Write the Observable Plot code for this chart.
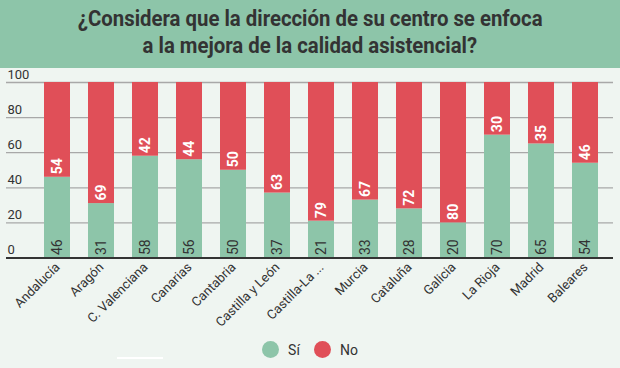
<!DOCTYPE html>
<html>
<head>
<meta charset="utf-8">
<script src="https://cdn.jsdelivr.net/npm/d3@7"></script>
<script src="https://cdn.jsdelivr.net/npm/@observablehq/plot@0.6"></script>
<style>
  html, body { margin: 0; padding: 0; }
  body { width: 620px; height: 368px; background: #eff5f1; font-family: Roboto, sans-serif; overflow: hidden; position: relative; }
  #header { height: 68px; background: #8dc5a9; text-align: center; color: #333; font-weight: 700; font-size: 22px; }
  #header div { line-height: 27px; }
  #header span { display: inline-block; transform: scaleX(0.925); white-space: nowrap; }
  #header .l1 { padding-top: 5px; }
  #chart { position: absolute; top: 68px; left: 0; }
  #legend { position: absolute; top: 341px; left: 0; width: 620px; display: flex; justify-content: center; align-items: center; font-size: 14px; color: #333; }
  .sw { width: 17px; height: 17px; border-radius: 50%; display: inline-block; margin-right: 9px; }
  .item { display: flex; align-items: center; margin: 0 7px; }
  #bar { position: absolute; left: 117px; top: 357px; width: 46px; height: 2px; background: #ffffff; }
</style>
</head>
<body>
<div id="header"><div class="l1"><span>¿Considera que la dirección de su centro se enfoca</span></div><div><span>a la mejora de la calidad asistencial?</span></div></div>
<div id="chart"></div>
<div id="legend"></div>
<div id="bar"></div>
<script>
const regions = ["Andalucía","Aragón","C. Valenciana","Canarias","Cantabria","Castilla y León","Castilla-La ...","Murcia","Cataluña","Galicia","La Rioja","Madrid","Baleares"];
const si = [46,31,58,56,50,37,21,33,28,20,70,65,54];
const no = [54,69,42,44,50,63,79,67,72,80,30,35,46];
const series = ["Sí","No"];
const colors = ["#8dc5a9","#e04f58"];
const yTicks = [0,20,40,60,80,100];

const rows = [];
regions.forEach((r, i) => {
  rows.push({region: r, serie: "Sí", value: si[i]});
  rows.push({region: r, serie: "No", value: no[i]});
});
const siRows = regions.map((r, i) => ({region: r, value: si[i]}));
const noRows = regions.map((r, i) => ({region: r, base: si[i], value: no[i]}));

const chart = Plot.plot({
  width: 620,
  height: 268,
  marginTop: 14,
  marginBottom: 78.5,
  marginLeft: 6,
  marginRight: 7,
  style: {background: "transparent", fontFamily: "Roboto, sans-serif", color: "#333"},
  x: {domain: regions, padding: 0.4, paddingOuter: 0.55, align: 0.73, label: null},
  y: {domain: [0, 100], label: null},
  color: {domain: series, range: colors},
  marks: [
    Plot.ruleY(yTicks.filter(t => t > 0), {stroke: "#a8a8a8", strokeWidth: 1.3}),
    Plot.barY(rows, {x: "region", y: "value", fill: "serie"}),
    Plot.text(siRows, {x: "region", y: 0, text: d => String(d.value), rotate: -90, textAnchor: "start", dy: -3, fill: "#333", fontSize: 14}),
    Plot.text(noRows, {x: "region", y: "base", text: d => String(d.value), rotate: -90, textAnchor: "start", dy: -3, fill: "white", fontSize: 14, fontWeight: "bold"}),
    Plot.ruleY([0], {stroke: "#333", strokeWidth: 2}),
    Plot.axisX({tickSize: 0, tickRotate: -45, tickPadding: 7, fontSize: 13, fill: "#333", label: null}),
    Plot.axisY({ticks: yTicks, tickSize: 0, tickPadding: 0, textAnchor: "start", dx: 1, dy: -8, fontSize: 13, fill: "#333", label: null})
  ]
});
document.getElementById("chart").appendChild(chart);

const legend = document.getElementById("legend");
series.forEach((s, i) => {
  const it = document.createElement("div");
  it.className = "item";
  const sw = document.createElement("span");
  sw.className = "sw";
  sw.style.background = colors[i];
  const t = document.createElement("span");
  t.textContent = s;
  it.appendChild(sw); it.appendChild(t);
  legend.appendChild(it);
});
</script>
</body>
</html>
